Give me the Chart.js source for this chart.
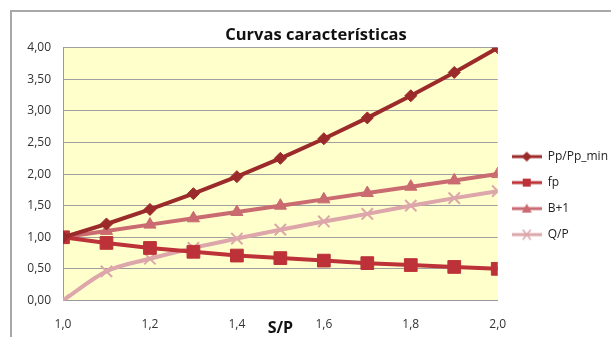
<!DOCTYPE html>
<html>
<head>
<meta charset="utf-8">
<script src="https://cdn.jsdelivr.net/npm/chart.js@4"></script>
<style>
  html, body { margin: 0; padding: 0; background: #fff; }
  #wrap { width: 611px; height: 337px; }
</style>
</head>
<body>
<div id="wrap"><canvas id="c" width="611" height="337"></canvas></div>
<script>
// datos
const sp = [1.0, 1.1, 1.2, 1.3, 1.4, 1.5, 1.6, 1.7, 1.8, 1.9, 2.0];
const ppMin = [1.00, 1.21, 1.44, 1.69, 1.96, 2.25, 2.56, 2.89, 3.24, 3.61, 4.00];
const fp = [1.00, 0.91, 0.83, 0.77, 0.71, 0.67, 0.63, 0.59, 0.56, 0.53, 0.50];
const bMas1 = [1.00, 1.10, 1.20, 1.30, 1.40, 1.50, 1.60, 1.70, 1.80, 1.90, 2.00];
const qp = [0.00, 0.46, 0.66, 0.83, 0.98, 1.12, 1.25, 1.37, 1.50, 1.62, 1.73];
const nombres = ['Pp/Pp_min', 'fp', 'B+1', 'Q/P'];

const colores = ['#9b2a2a', '#bc3238', '#c96b70', '#dca6ab'];
const estilos = ['rectRot', 'rect', 'triangle', 'crossRot'];
const radios = [6, 9, 7, 8];

const pts = arr => sp.map((x, i) => ({ x, y: arr[i] }));

// simbolo de leyenda: linea + marcador
const iconoLeyenda = (color, estilo) => {
  const cv = document.createElement('canvas');
  cv.width = 30; cv.height = 12;
  const g = cv.getContext('2d');
  g.strokeStyle = color; g.fillStyle = color; g.lineWidth = 3;
  g.beginPath(); g.moveTo(0, 6); g.lineTo(30, 6); g.stroke();
  g.lineWidth = 1.5;
  if (estilo === 'rectRot') { g.beginPath(); g.moveTo(15, 1); g.lineTo(20, 6); g.lineTo(15, 11); g.lineTo(10, 6); g.closePath(); g.fill(); }
  if (estilo === 'rect') g.fillRect(11, 2, 8, 8);
  if (estilo === 'triangle') { g.beginPath(); g.moveTo(15, 1); g.lineTo(20, 10); g.lineTo(10, 10); g.closePath(); g.fill(); }
  if (estilo === 'crossRot') { g.beginPath(); g.moveTo(11, 1); g.lineTo(19, 11); g.moveTo(19, 1); g.lineTo(11, 11); g.stroke(); }
  return cv;
};

const marco = {
  id: 'marco',
  beforeDraw(chart) {
    const { ctx, chartArea: a } = chart;
    ctx.save();
    ctx.fillStyle = '#ffffcc';
    ctx.fillRect(a.left, a.top, a.right - a.left, a.bottom - a.top);
    ctx.strokeStyle = '#a8a8a8'; ctx.lineWidth = 2;
    ctx.strokeRect(11, 11, 700, 400);
    ctx.restore();
  }
};

const series = [ppMin, fp, bMas1, qp];
new Chart(document.getElementById('c').getContext('2d'), {
  type: 'line',
  data: {
    datasets: series.map((s, i) => ({
      label: nombres[i],
      data: pts(s),
      borderColor: colores[i],
      backgroundColor: colores[i],
      borderWidth: 4,
      pointStyle: estilos[i],
      pointRadius: radios[i],
      pointBorderWidth: i === 3 ? 2 : 1,
      pointBorderColor: colores[i],
      tension: i === 3 ? 0.4 : 0,
      cubicInterpolationMode: i === 3 ? 'monotone' : 'default'
    }))
  },
  options: {
    responsive: false,
    animation: false,
    layout: { padding: { left: 14, top: 12, right: -7, bottom: 0 } },
    plugins: {
      title: {
        display: true,
        text: 'Curvas características',
        font: { family: 'Open Sans', size: 16.5, weight: 'bold' },
        color: '#111',
        padding: { top: 13, bottom: 3 }
      },
      legend: {
        position: 'right',
        title: { display: true, text: '', font: { size: 11 }, padding: { top: 0, bottom: 29 } },
        labels: {
          usePointStyle: true,
          pointStyleWidth: 30,
          font: { family: 'Open Sans', size: 12 },
          color: '#222',
          padding: 14,
          generateLabels: chart => chart.data.datasets.map((d, i) => ({
            text: d.label,
            pointStyle: iconoLeyenda(colores[i], estilos[i]),
            datasetIndex: i,
            fontColor: '#222',
            lineWidth: 0,
            strokeStyle: 'transparent',
            fillStyle: 'transparent'
          }))
        }
      },
      tooltip: { enabled: false }
    },
    scales: {
      x: {
        type: 'linear',
        min: 1.0, max: 2.0,
        grid: { display: false, drawTicks: false },
        border: { color: '#999', width: 1 },
        ticks: {
          stepSize: 0.2,
          padding: 17,
          color: '#333',
          font: { family: 'Open Sans', size: 12 },
          callback: v => v.toFixed(1).replace('.', ',')
        },
        title: {
          display: true,
          text: 'S/P',
          font: { family: 'Open Sans', size: 16, weight: 'bold' },
          color: '#111',
          padding: { top: -30, bottom: -1 }
        }
      },
      y: {
        min: 0, max: 4,
        grid: { color: '#a0a0a0', lineWidth: 1, drawTicks: false },
        border: { color: '#999', width: 1 },
        afterFit: s => { s.width = 49; },
        ticks: {
          stepSize: 0.5,
          padding: 12,
          color: '#333',
          font: { family: 'Open Sans', size: 12 },
          callback: v => v.toFixed(2).replace('.', ',')
        }
      }
    }
  },
  plugins: [marco]
});
</script>
</body>
</html>
